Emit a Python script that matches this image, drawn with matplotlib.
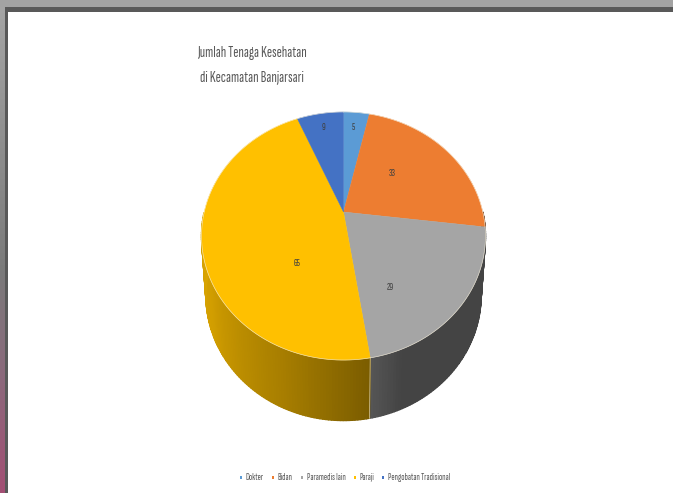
import numpy as np
import matplotlib
matplotlib.use('Agg')
import matplotlib.pyplot as plt
from matplotlib.collections import PolyCollection
from matplotlib.colors import LinearSegmentedColormap, to_rgb
from matplotlib.patches import Rectangle, Polygon

# Jumlah tenaga kesehatan per kategori
categories = ['Dokter', 'Bidan', 'Paramedis lain', 'Paraji', 'Pengobatan Tradisional']
counts = [5, 33, 29, 65, 9]
slice_colors = ['#5B9BD5', '#ED7D31', '#A5A5A5', '#FFC000', '#4472C4']

title_lines = ['Jumlah Tenaga Kesehatan', 'di Kecamatan Banjarsari']

W, H = 673, 493
FONT = ['Sofia Sans Extra Condensed', 'Roboto Condensed', 'DejaVu Sans']
PERSP = 0.1935


def project(theta, r, cx, cy, kx, ky):
    """Perspective projection of a point on the pie disc, theta clockwise from top"""
    x = r * np.sin(theta)
    y = r * np.cos(theta)
    w = 1 + PERSP * y
    return cx + kx * x / w, cy - ky * y / w


def top_disc(theta, r=1.0):
    return project(theta, r, 343.5, 212, 139.3, 119.4)


def bottom_disc(theta):
    return project(theta, 1.0, 343.5, 271, 135, 120.6)


def side_shade(deg):
    # the seam between Paramedis lain and Paraji is where the lighting jumps
    if deg < 171:
        return np.interp(deg, [90, 160, 171], [0.41, 0.41, 0.52])
    return np.interp(deg, [171, 200, 240, 275], [0.48, 0.65, 0.82, 0.86])


fig = plt.figure(figsize=(W / 100, H / 100), dpi=100, facecolor='white')
ax = fig.add_axes([0, 0, 1, 1])
ax.axis('off')

# window frame around the chart
strip = LinearSegmentedColormap.from_list(
    'strip', [(0, '#a6a6a6'), (0.55, '#7a7a7a'), (0.75, '#8a6a7c'), (1, '#a34f74')])
ax.imshow(np.linspace(0, 1, 256)[:, None], cmap=strip, extent=[0, 5, H, 0], aspect='auto', zorder=1)
ax.set_xlim(0, W)
ax.set_ylim(H, 0)
ax.add_patch(Rectangle((0, 0), W, 7, color='#a3a3a3', lw=0, zorder=2))
ax.add_patch(Rectangle((5, 7), W - 5, 5, color='#595959', lw=0, zorder=2))
ax.add_patch(Rectangle((5, 7), 3, H - 7, color='#595959', lw=0, zorder=2))

# wedge limits from the counts
edges = np.concatenate([[0], np.cumsum(counts)]) / np.sum(counts) * 2 * np.pi

# side wall, built from thin shaded quads (front half only, the rest is hidden)
quads, quad_colors = [], []
for i, color in enumerate(slice_colors):
    n = max(int(np.degrees(edges[i + 1] - edges[i])), 2)
    steps = np.linspace(edges[i], edges[i + 1], n + 1)
    base = np.array(to_rgb(color))
    for a, b in zip(steps[:-1], steps[1:]):
        if np.cos((a + b) / 2) > 0:
            continue
        quads.append([top_disc(a), top_disc(b), bottom_disc(b), bottom_disc(a)])
        quad_colors.append(base * side_shade(np.degrees((a + b) / 2)))
ax.add_collection(PolyCollection(quads, facecolors=quad_colors, edgecolors=quad_colors,
                                 linewidths=1.0, zorder=3))

# seam on the front of the wall
seam = edges[3]
ax.plot(*zip(top_disc(seam), bottom_disc(seam)), color='#c9b98a', lw=0.6, zorder=4)

# top surface
apex = top_disc(0.0, 0.0)
for i, color in enumerate(slice_colors):
    t = np.linspace(edges[i], edges[i + 1], 120)
    px, py = top_disc(t)
    pts = np.column_stack([np.r_[apex[0], px], np.r_[apex[1], py]])
    ax.add_patch(Polygon(pts, closed=True, facecolor=color, edgecolor=color, lw=0.3, zorder=5))
    ax.plot(px, py, color='#f6efdc', lw=0.5, alpha=0.8, zorder=5.5)

# value labels
label_pos = [(353, 127), (392, 174), (390, 288), (297, 263), (324, 127)]
for val, (lx, ly) in zip(counts, label_pos):
    ax.text(lx, ly, str(val), ha='center', va='center', fontsize=7.5, color='#404040',
            family=FONT, zorder=6)

# title
for line, ty in zip(title_lines, [53, 77]):
    ax.text(252, ty, line, ha='center', va='center', fontsize=11.3, color='#595959',
            family=FONT, zorder=6)

# legend row
marker_x = [241, 272.5, 302, 355, 383]
text_x = [245, 277, 307, 359, 388]
for name, color, mx, tx in zip(categories, slice_colors, marker_x, text_x):
    ax.add_patch(Rectangle((mx - 1, 475.5), 2.2, 3, color=color, lw=0, zorder=6))
    ax.text(tx, 477, name, ha='left', va='center', fontsize=7.0, color='#595959',
            family=FONT, zorder=6)

fig.savefig('out.png', dpi=100, facecolor='white')
plt.close(fig)
